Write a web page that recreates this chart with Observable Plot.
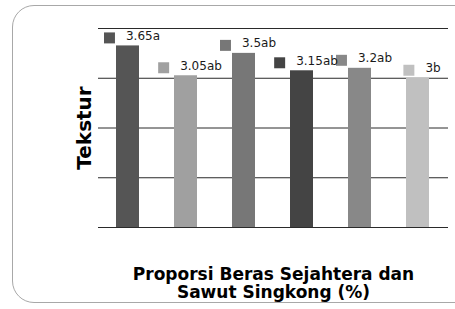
<!DOCTYPE html>
<html>
<head>
<meta charset="utf-8">
<script src="https://cdn.jsdelivr.net/npm/d3@7"></script>
<script src="https://cdn.jsdelivr.net/npm/@observablehq/plot@0.6"></script>
<style>
  html, body { margin: 0; padding: 0; background: #fff; }
  #wrap { position: relative; width: 455px; height: 309px; overflow: hidden; }
  #frame { position: absolute; left: 12px; top: 5px; width: 470px; height: 296px;
           border: 1.5px solid #a8a8a8; border-radius: 22px; box-sizing: content-box; }
  #chart { position: absolute; left: 0; top: 0; }
</style>
</head>
<body>
<div id="wrap"><div id="frame"></div><div id="chart"></div></div>
<script>
const categories = ["P1", "P2", "P3", "P4", "P5", "P6"];
const values = [3.65, 3.05, 3.5, 3.15, 3.2, 3.0];
const labels = ["3.65a", "3.05ab", "3.5ab", "3.15ab", "3.2ab", "3b"];
const colors = ["#555555", "#a0a0a0", "#777777", "#444444", "#888888", "#c0c0c0"];
const yTicks = [0, 1, 2, 3, 4];
const yTitle = "Tekstur";
const xTitle = "Proporsi Beras Sejahtera dan\nSawut Singkong (%)";

const data = categories.map((c, i) => ({cat: c, value: values[i], label: labels[i], color: colors[i]}));

const ctx = document.createElement("canvas").getContext("2d");
ctx.font = "12px 'DejaVu Sans'";
const textW = s => ctx.measureText(s).width;

const keyMarks = data.map(d => Plot.dot([d], {
  x: "cat", y: "value", symbol: "square", r: 6.2, fill: "color", stroke: "none",
  dx: -1.5 - textW(d.label) / 2, dy: -8
}));

const chart = Plot.plot({
  width: 455, height: 309,
  marginLeft: 98, marginRight: 7, marginTop: 28, marginBottom: 82,
  style: {background: "transparent", fontFamily: "'DejaVu Sans', Verdana, sans-serif"},
  x: {domain: categories, paddingInner: 0.6, paddingOuter: 0.3, axis: null},
  y: {domain: [0, 4], axis: null},
  marks: [
    Plot.ruleY(yTicks, {stroke: "#2a2a2a", strokeWidth: 1}),
    Plot.barY(data, {x: "cat", y: "value", fill: "color"}),
    ...keyMarks,
    Plot.text(data, {x: "cat", y: "value", text: "label", dx: 15, dy: -10,
      fontSize: 12, fill: "#1a1a1a", textAnchor: "middle"}),
    Plot.text([yTitle], {frameAnchor: "left", dx: -14, rotate: -90, fontSize: 20,
      fontWeight: "bold", fill: "#000", textAnchor: "middle"}),
    Plot.text([xTitle], {frameAnchor: "bottom", dy: 56, fontSize: 17, lineHeight: 1.06,
      fontWeight: "bold", fill: "#000", textAnchor: "middle", lineAnchor: "middle"})
  ]
});
document.getElementById("chart").appendChild(chart);
</script>
</body>
</html>
